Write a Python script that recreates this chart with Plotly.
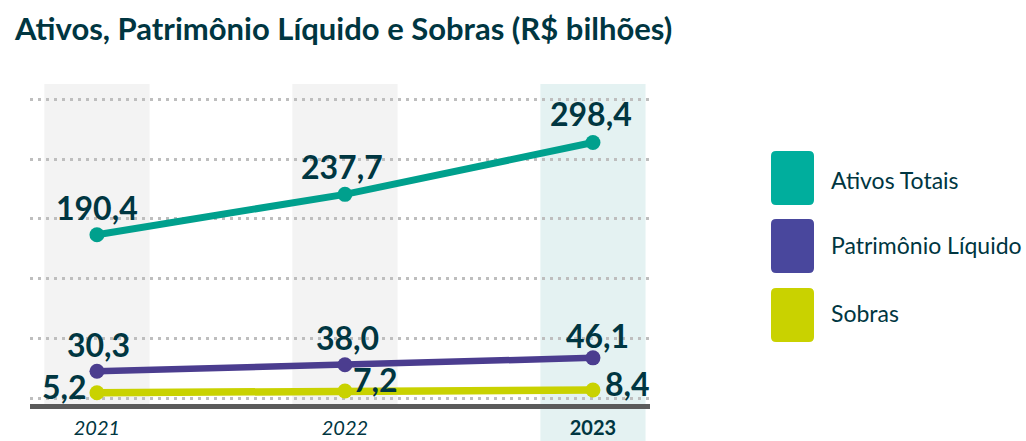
import plotly.graph_objects as go

# ---- data ----
years = ["2021", "2022", "2023"]
year_labels = ["<i>2021</i>", "<i>2022</i>", "<b>2023</b>"]
ativos = [190.4, 237.7, 298.4]
patrimonio = [30.3, 38.0, 46.1]
sobras = [5.2, 7.2, 8.4]
series_names = ["Ativos Totais", "Patrimônio Líquido", "Sobras"]
title_text = "Ativos, Patrimônio Líquido e Sobras (R$ bilhões)"

# ---- style ----
W, H = 1026, 441
L, R, T, B = 30, 376, 84, 37
PW, PH = W - L - R, H - T - B
DARK = "#003641"
line_colors = ["#00A08D", "#4B3D8F", "#C9D200"]
legend_colors = ["#00AE9D", "#49479D", "#C9D200"]
FONT = "Lato"


def fmt(v):
    return f"{v:.1f}".replace(".", ",")


def px_x(p):
    return (p - L) / PW


def px_y(p):
    return (H - B - p) / PH


def rrect_path(x0, y0, x1, y1, r):
    pts = [
        ("M", px_x(x0 + r), px_y(y0)),
        ("L", px_x(x1 - r), px_y(y0)),
        ("Q", px_x(x1), px_y(y0), px_x(x1), px_y(y0 + r)),
        ("L", px_x(x1), px_y(y1 - r)),
        ("Q", px_x(x1), px_y(y1), px_x(x1 - r), px_y(y1)),
        ("L", px_x(x0 + r), px_y(y1)),
        ("Q", px_x(x0), px_y(y1), px_x(x0), px_y(y1 - r)),
        ("L", px_x(x0), px_y(y0 + r)),
        ("Q", px_x(x0), px_y(y0), px_x(x0 + r), px_y(y0)),
    ]
    s = ""
    for p in pts:
        s += p[0] + " " + " ".join(f"{v:.5f}" for v in p[1:]) + " "
    return s + "Z"


xs = list(range(len(years)))
series = [ativos, patrimonio, sobras]
widths = [7, 6.5, 7.5]

fig = go.Figure()
for name, vals, col, w in zip(series_names, series, line_colors, widths):
    fig.add_trace(go.Scatter(
        x=xs, y=vals, name=name, mode="lines+markers",
        line=dict(color=col, width=w),
        marker=dict(color=col, size=15),
        showlegend=False, cliponaxis=False,
    ))

# value labels (offsets in pixels relative to the point)
offsets = [
    [(0, 27), (-3, 28), (-2, 29)],
    [(2, 27), (3, 27), (5, 22)],
    [(-32, 6), (31, 12), (35, 7)],
]
annotations = []
for vals, offs in zip(series, offsets):
    for xi, v, (dx, dy) in zip(xs, vals, offs):
        annotations.append(dict(
            x=xi, y=v, xref="x", yref="y", text=f"<b>{fmt(v)}</b>",
            showarrow=False, xshift=dx, yshift=dy,
            font=dict(family=FONT, size=32, color=DARK),
        ))

# legend text
legend_y = [180, 245, 313]
for name, yc in zip(series_names, legend_y):
    annotations.append(dict(
        x=px_x(829), y=px_y(yc), xref="paper", yref="paper", text=name,
        xanchor="left", yanchor="middle", showarrow=False,
        font=dict(family=FONT, size=23, color=DARK),
    ))

shapes = []
# column bands
band_half = 0.212
for xi in xs:
    last = xi == xs[-1]
    shapes.append(dict(
        type="rect", xref="x", yref="paper", layer="below",
        x0=xi - band_half, x1=xi + band_half,
        y0=-0.2 if last else 0, y1=1,
        fillcolor="#E4F2F2" if last else "#F3F3F3", line=dict(width=0),
    ))
# legend swatches
swatch_y = [178, 246, 315]
for col, yc in zip(legend_colors, swatch_y):
    shapes.append(dict(
        type="path", xref="paper", yref="paper",
        path=rrect_path(771, yc - 27, 814, yc + 27, 5),
        fillcolor=col, line=dict(width=0),
    ))

fig.update_layout(
    width=W, height=H,
    margin=dict(l=L, r=R, t=T, b=B, autoexpand=False),
    paper_bgcolor="white", plot_bgcolor="white",
    title=dict(
        text=f"<b>{title_text}</b>", xref="container", yref="container",
        x=15 / W, xanchor="left", y=1 - 29 / H, yanchor="middle",
        font=dict(family=FONT, size=31, color=DARK),
    ),
    annotations=annotations,
    shapes=shapes,
    font=dict(family=FONT, color=DARK),
)
fig.update_xaxes(
    range=[-0.27, 2.23], tickvals=xs, ticktext=year_labels,
    showgrid=False, zeroline=False, automargin=False,
    showline=True, linecolor="#5B5B5B", linewidth=5,
    ticks="outside", ticklen=2, tickcolor="rgba(0,0,0,0)",
    tickfont=dict(family=FONT, size=20, color=DARK),
)
fig.update_yaxes(
    range=[-8, 367], tick0=69, dtick=70, automargin=False,
    showticklabels=False, zeroline=False,
    showgrid=True, gridcolor="#BEBEBE", gridwidth=3, griddash="3px,5px",
)

fig.write_html("out.html")
